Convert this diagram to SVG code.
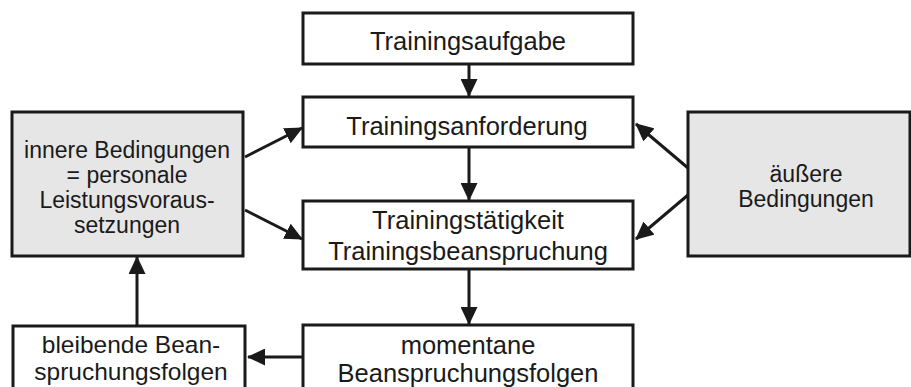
<svg xmlns="http://www.w3.org/2000/svg" width="911" height="387" viewBox="0 0 911 387">
  <style>
    .box { fill: #ffffff; stroke: #1a1a1a; stroke-width: 3; }
    .grey { fill: #e6e6e6; }
    .t { font-family: "Liberation Sans", Arial, sans-serif; fill: #1a1a1a; text-anchor: middle; }
    .big { font-size: 25.5px; }
    .mid { font-size: 24.5px; }
    .small { font-size: 23px; }
    .link { stroke: #1a1a1a; stroke-width: 3; fill: none; marker-end: url(#head); }
  </style>
  <defs>
    <marker id="head" markerUnits="userSpaceOnUse" markerWidth="18" markerHeight="17" viewBox="0 0 18 17" refX="17" refY="8.5" orient="auto">
      <path d="M0,0 L18,8.5 L0,17 Z" fill="#1a1a1a"/>
    </marker>
  </defs>
  <rect width="911" height="387" fill="#ffffff"/>

  <g id="connectors">
    <line class="link" x1="469" y1="64" x2="469" y2="96"/>
    <line class="link" x1="469" y1="147" x2="469" y2="200"/>
    <line class="link" x1="469" y1="269" x2="469" y2="324"/>
    <line class="link" x1="303" y1="357" x2="248" y2="357"/>
    <line class="link" x1="137" y1="326" x2="137" y2="257"/>
    <line class="link" x1="245" y1="157" x2="302" y2="128"/>
    <line class="link" x1="245" y1="210" x2="302" y2="239"/>
    <line class="link" x1="688" y1="168" x2="636" y2="124"/>
    <line class="link" x1="688" y1="195" x2="636" y2="239"/>
  </g>

  <g id="trainingsaufgabe">
    <rect class="box" x="303" y="13" width="330" height="51"/>
    <text class="t big" x="468" y="50">Trainingsaufgabe</text>
  </g>

  <g id="trainingsanforderung">
    <rect class="box" x="303" y="97" width="330" height="50"/>
    <text class="t big" x="467" y="135">Trainingsanforderung</text>
  </g>

  <g id="trainingstaetigkeit">
    <rect class="box" x="303" y="201" width="330" height="68"/>
    <text class="t big" x="468" y="229">Trainingstätigkeit</text>
    <text class="t big" x="468" y="260">Trainingsbeanspruchung</text>
  </g>

  <g id="momentane-folgen">
    <rect class="box" x="303" y="325" width="330" height="70"/>
    <text class="t big" x="468" y="354">momentane</text>
    <text class="t big" x="468" y="382">Beanspruchungsfolgen</text>
  </g>

  <g id="bleibende-folgen">
    <rect class="box" x="13" y="326" width="232" height="70"/>
    <text class="t mid" x="131" y="353">bleibende Bean-</text>
    <text class="t mid" x="131" y="380">spruchungsfolgen</text>
  </g>

  <g id="innere-bedingungen">
    <rect class="box grey" x="12" y="112" width="231" height="144"/>
    <text class="t small" x="127" y="158">innere Bedingungen</text>
    <text class="t small" x="127" y="183">= personale</text>
    <text class="t small" x="127" y="208">Leistungsvoraus-</text>
    <text class="t small" x="127" y="233">setzungen</text>
  </g>

  <g id="aeussere-bedingungen">
    <rect class="box grey" x="688" y="112" width="222" height="144"/>
    <text class="t small" x="806" y="182">äußere</text>
    <text class="t small" x="806" y="207">Bedingungen</text>
  </g>
</svg>
